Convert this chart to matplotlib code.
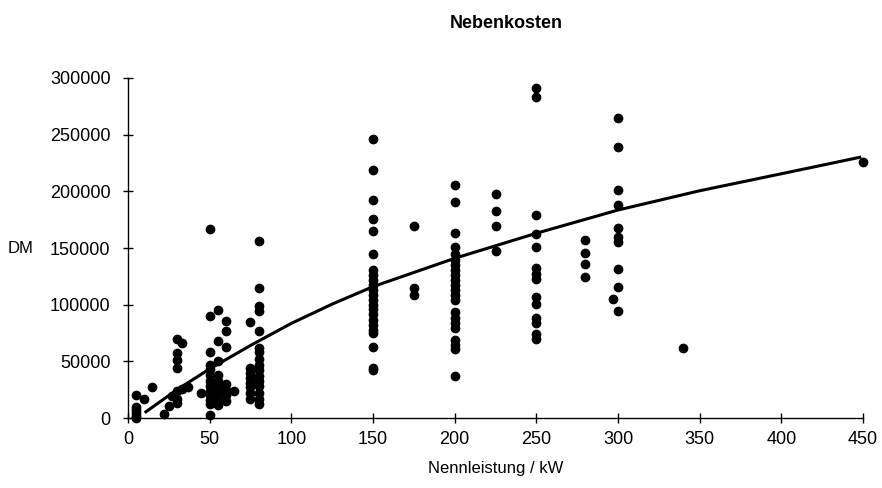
import numpy as np
import matplotlib
matplotlib.use("Agg")
from matplotlib import pyplot as plt

# Nennleistung (kW) and Nebenkosten (DM) per plant, grouped by rating
ratings_kw = [5, 10, 15, 22, 25, 27, 30, 33, 37, 45, 50, 55, 60, 65, 75, 80,
              150, 175, 200, 225, 250, 280, 297, 300, 340, 450]
costs_dm = [
    [20000, 10000, 7000, 4000, 1500, 0],
    [16500],
    [27500],
    [3500],
    [11000],
    [19500],
    [69500, 57000, 51000, 44000, 24000, 17000, 13000],
    [66500, 26000],
    [27000],
    [22000],
    [166500, 90000, 58000, 47000, 43000, 38000, 33000, 28000, 24000, 20000, 16000, 12000, 3000],
    [95000, 68000, 50000, 38000, 33000, 28000, 24000, 19000, 14000, 11500],
    [86000, 77000, 62500, 30000, 25000, 20000, 15000],
    [23500],
    [84500, 44000, 40000, 35000, 31000, 27000, 22000, 17000],
    [156000, 115000, 99000, 94000, 77000, 62000, 58000, 52000, 47000, 42000,
     37000, 33000, 28000, 22000, 17000, 12000],
    [246000, 219000, 192500, 175500, 165000, 145000, 130500, 126000, 122000,
     117500, 113000, 108500, 104000, 100000, 96000, 92000, 86500, 82000, 78000,
     75000, 62500, 44000, 42000],
    [169500, 114500, 108500],
    [205500, 191000, 163500, 151000, 145000, 139500, 135000, 130500, 126000,
     122000, 117500, 113000, 108500, 104500, 93500, 88500, 83500, 79500, 68500,
     64500, 60500, 37000],
    [197500, 183000, 169500, 147000],
    [291000, 283500, 179000, 162000, 150500, 132000, 127500, 123000, 107000,
     100500, 88000, 83500, 74500, 70000],
    [157000, 146000, 135500, 124500],
    [105000],
    [265000, 239500, 201000, 188000, 167500, 160000, 155000, 131500, 116000, 94500],
    [61500],
    [225500],
]

# trend curve
trend_kw = [11, 30, 50, 75, 100, 125, 150, 200, 250, 300, 350, 400, 448]
trend_dm = [5500, 25000, 43300, 64000, 83500, 100500, 115900, 140900, 163000,
            183500, 200500, 215500, 230000]

x = np.concatenate([[r] * len(c) for r, c in zip(ratings_kw, costs_dm)])
y = np.concatenate(costs_dm)

plt.rcParams['font.family'] = ['Liberation Sans', 'DejaVu Sans']

fig = plt.figure(figsize=(8.82, 4.88), dpi=100)
ax = fig.add_axes([0.1451, 0.1434, 0.8334, 0.6968])

ax.plot(x, y, 'o', color='black', markersize=6, clip_on=False, zorder=3)
ax.plot(trend_kw, trend_dm, color='black', linewidth=2.2, zorder=4)

ax.set_xlim(0, 450)
ax.set_ylim(0, 300000)
ax.set_xticks(range(0, 451, 50))
ax.set_yticks(range(0, 300001, 50000))
ax.tick_params(direction='inout', length=7, width=1, labelsize=13)
ax.tick_params(axis='y', pad=9)
ax.tick_params(axis='x', pad=6)

ax.spines[['top', 'right']].set_visible(False)
ax.spines[['left', 'bottom']].set_linewidth(1)

ax.set_xlabel("Nennleistung / kW", fontsize=12, labelpad=9)
ax.set_ylabel("DM", fontsize=12, rotation=0, ha='right', va='center')
ax.yaxis.set_label_coords(-0.129, 0.5)
ax.set_title("Nebenkosten", fontsize=13, fontweight='bold', pad=36, x=0.515)

fig.savefig("out.png", dpi=100)
